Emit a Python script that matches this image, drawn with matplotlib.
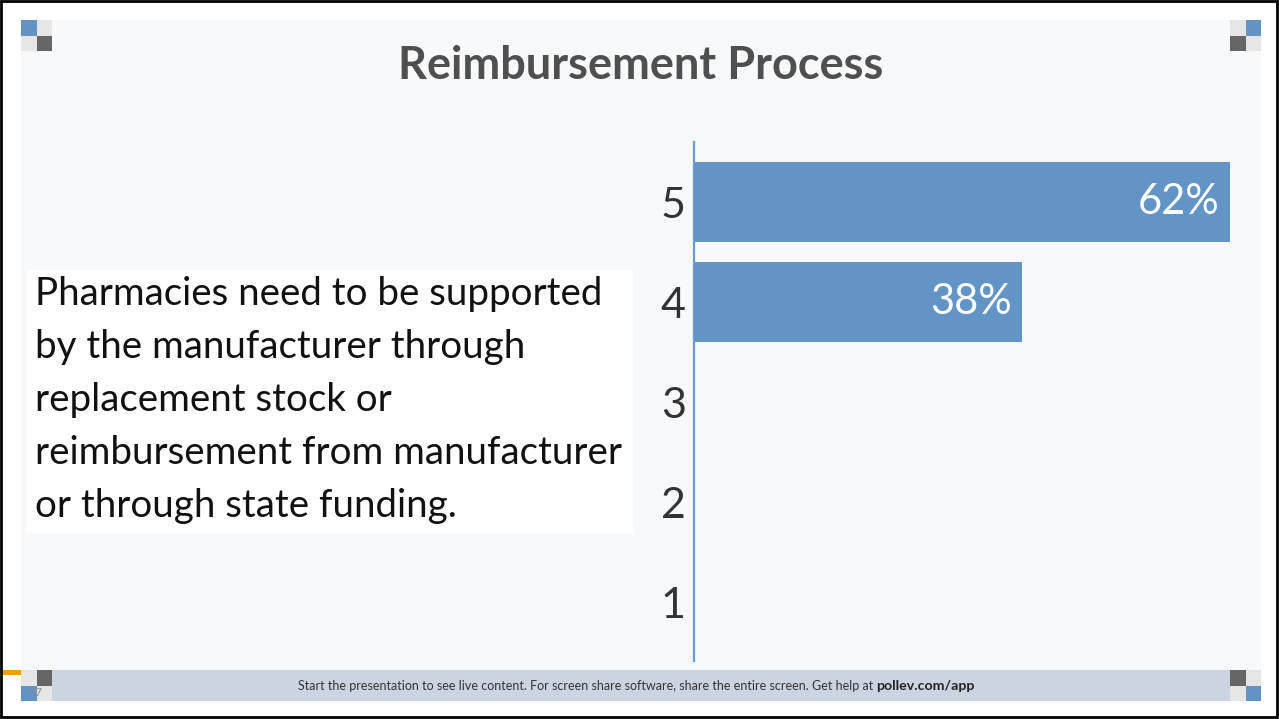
import matplotlib
matplotlib.use("Agg")
import matplotlib.pyplot as plt
from matplotlib.patches import Rectangle

# ---- data ----
categories = ["5", "4", "3", "2", "1"]
positions = [5, 4, 3, 2, 1]
percent = [62, 38, 0, 0, 0]
title = "Reimbursement Process"
prompt_lines = [
    "Pharmacies need to be supported",
    "by the manufacturer through",
    "replacement stock or",
    "reimbursement from manufacturer",
    "or through state funding.",
]
footer_text = "Start the presentation to see live content. For screen share software, share the entire screen. Get help at"
footer_link = "pollev.com/app"

W, H = 1279, 719
BAR = "#6394c6"
AXIS = "#6a9bd0"
PANEL = "#f8f9fb"
FOOT = "#cbd5e1"
LIGHT = "#e6e6e6"
DARK = "#666666"
BLUE = "#6393c5"

plt.rcParams["font.family"] = ["Lato", "DejaVu Sans"]

fig = plt.figure(figsize=(W / 100, H / 100), dpi=100, facecolor="white")

# background canvas in pixel coordinates
bg = fig.add_axes([0, 0, 1, 1])
bg.set_xlim(0, W)
bg.set_ylim(H, 0)
bg.axis("off")

def box(x0, y0, x1, y1, color, **kw):
    bg.add_patch(Rectangle((x0, y0), x1 - x0, y1 - y0, facecolor=color,
                           edgecolor="none", **kw))

# outer frame
bg.add_patch(Rectangle((1, 1), W - 3, H - 3, facecolor="none",
                       edgecolor="black", linewidth=2))
# slide panel and footer band
box(21, 20, 1261, 670, PANEL)
box(52, 670, 1230, 701, FOOT)
box(3, 670, 21, 675, "#f0a000")

# corner squares
def quad(x, y, colors):
    s = 15.5
    box(x, y, x + s, y + s, colors[0])
    box(x + s, y, x + 2 * s, y + s, colors[1])
    box(x, y + s, x + s, y + 2 * s, colors[2])
    box(x + s, y + s, x + 2 * s, y + 2 * s, colors[3])

quad(21, 20, [BLUE, LIGHT, LIGHT, DARK])
quad(1230, 20, [LIGHT, BLUE, DARK, LIGHT])
quad(21, 670, [LIGHT, DARK, BLUE, LIGHT])
quad(1230, 670, [DARK, LIGHT, LIGHT, BLUE])
bg.text(36, 692, "17", fontsize=8, color="#8a8a8a", ha="center", va="center")

# title
bg.text(641, 66, title, fontsize=32.5, fontweight="bold", color="#4f4f4f",
        ha="center", va="center")

# question text box
box(27, 270, 633, 533, "white")
line_y = [294, 347, 400, 453, 506]
for txt, y in zip(prompt_lines, line_y):
    bg.text(35, y, txt, fontsize=27.7, color="#111111", ha="left",
            va="center")

# footer message
bg.text(873, 686, footer_text, fontsize=9, color="#333333", ha="right",
        va="center")
bg.text(876, 686, footer_link, fontsize=10.2, color="#222222",
        fontweight="bold", ha="left", va="center")

# ---- bar chart ----
left_px, right_px, top_px, bot_px = 694, 1260, 142, 661
ax = fig.add_axes([left_px / W, (H - bot_px) / H,
                   (right_px - left_px) / W, (bot_px - top_px) / H])
ax.set_facecolor("none")
ax.barh(positions, percent, height=0.8, color=BAR, edgecolor="none")
ax.set_xlim(0, 65.5)
ax.set_ylim(0.41, 5.6)
ax.set_yticks(positions)
ax.set_yticklabels(categories, fontsize=31, color="#333333")
ax.tick_params(axis="y", length=0, pad=6)
ax.set_xticks([])
for side in ["top", "right", "bottom"]:
    ax.spines[side].set_visible(False)
ax.spines["left"].set_color(AXIS)
ax.spines["left"].set_linewidth(1.6)

for p, v in zip(positions, percent):
    if v > 0:
        ax.text(v - 1.2, p, f"{v}%", fontsize=30, fontweight="normal",
                color="white", ha="right", va="center")

fig.savefig("out.png", dpi=100, facecolor="white")
